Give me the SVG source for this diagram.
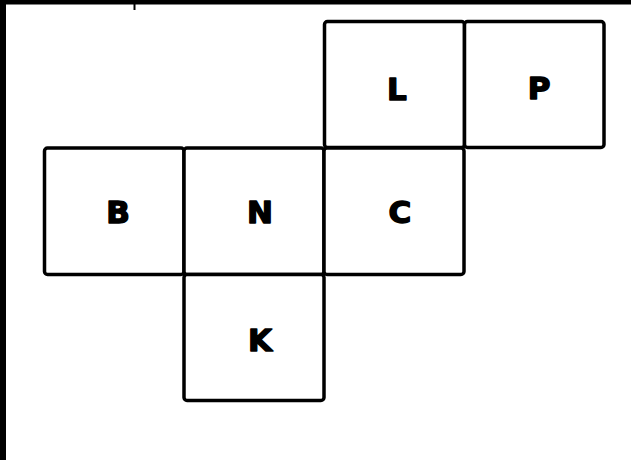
<svg xmlns="http://www.w3.org/2000/svg" width="631" height="460" viewBox="0 0 631 460">
  <style>
    .cell { fill: #ffffff; stroke: #000000; stroke-width: 3.5; stroke-linejoin: round; }
    .lbl { font-family: "DejaVu Sans", "Liberation Sans", sans-serif; font-weight: bold; font-size: 31px; fill: #000000; stroke: #000000; stroke-width: 1.5; stroke-linejoin: round; text-anchor: middle; }
  </style>
  <rect x="0" y="0" width="631" height="460" fill="#ffffff"/>
  <rect x="0" y="0" width="631" height="4.5" fill="#000000"/>
  <rect x="0" y="0" width="6" height="460" fill="#000000"/>
  <line x1="134.5" y1="4" x2="134.5" y2="10" stroke="#000000" stroke-width="2"/>
  <g id="connectors"></g>
  <g id="node-L">
    <rect class="cell" x="324.5" y="21.5" width="140" height="126" rx="3"/>
    <text class="lbl" x="397" y="100">L</text>
  </g>
  <g id="node-P">
    <rect class="cell" x="464.5" y="21.5" width="139.5" height="126" rx="3"/>
    <text class="lbl" x="539" y="99">P</text>
  </g>
  <g id="node-B">
    <rect class="cell" x="44.5" y="148" width="139.5" height="126.5" rx="3"/>
    <text class="lbl" x="118" y="223">B</text>
  </g>
  <g id="node-N">
    <rect class="cell" x="184" y="148" width="140" height="126.5" rx="3"/>
    <text class="lbl" x="260" y="223">N</text>
  </g>
  <g id="node-C">
    <rect class="cell" x="324" y="148" width="140" height="126.5" rx="3"/>
    <text class="lbl" x="400" y="223">C</text>
  </g>
  <g id="node-K">
    <rect class="cell" x="184" y="274.5" width="140" height="126" rx="3"/>
    <text class="lbl" x="260" y="351">K</text>
  </g>
</svg>
